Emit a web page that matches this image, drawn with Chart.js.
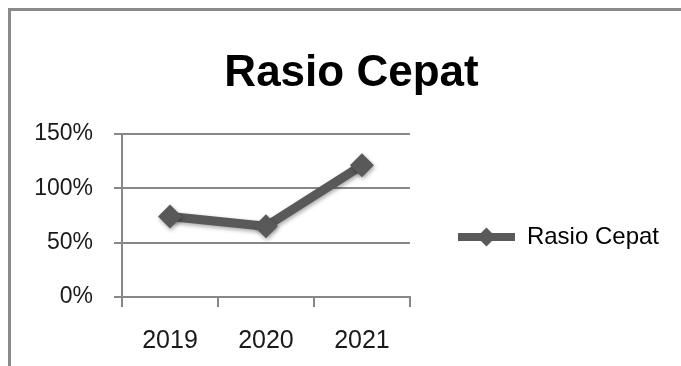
<!DOCTYPE html>
<html>
<head>
<meta charset="utf-8">
<script src="https://cdn.jsdelivr.net/npm/chart.js@4.4.1/dist/chart.umd.min.js"></script>
<style>
    html, body { margin: 0; padding: 0; background: #fff; overflow: hidden; }
    #wrap { position: relative; width: 681px; height: 366px; overflow: hidden; }
    #frame { position: absolute; left: 8px; top: 8px; width: 800px; height: 500px;
             border-top: 3px solid #8a8a8a; border-left: 3px solid #8a8a8a; }
    canvas { position: absolute; left: 0; top: 0; }
</style>
</head>
<body>
<div id="wrap">
    <div id="frame"></div>
    <canvas id="rasioCepatChart" width="681" height="366"></canvas>
</div>
<script>
const years = ['2019', '2020', '2021'];
const rasioCepat = [74, 65, 121];
const yTicks = [0, 50, 100, 150];

const lineColor = '#595959';
const gridColor = '#878787';

// legend symbol: thick line with a diamond in the middle
function legendSymbol() {
    let c = document.createElement('canvas');
    c.width = 57;
    c.height = 22;
    let g = c.getContext('2d');
    g.fillStyle = lineColor;
    g.fillRect(0, 7, 57, 8);
    g.beginPath();
    g.moveTo(28.5, 1.5);
    g.lineTo(38, 11);
    g.lineTo(28.5, 20.5);
    g.lineTo(19, 11);
    g.closePath();
    g.fill();
    return c;
}

const shadowPlugin = {
    id: 'softShadow',
    beforeDatasetsDraw(chart) {
        let ctx = chart.ctx;
        ctx.save();
        ctx.shadowColor = 'rgba(0,0,0,0.35)';
        ctx.shadowBlur = 4;
        ctx.shadowOffsetX = 1;
        ctx.shadowOffsetY = 2;
    },
    afterDatasetsDraw(chart) {
        chart.ctx.restore();
    }
};

const symbol = legendSymbol();

let ctx = document.getElementById('rasioCepatChart');
new Chart(ctx, {
    type: 'line',
    data: {
        labels: years,
        datasets: [{
            label: 'Rasio Cepat',
            data: rasioCepat,
            borderColor: lineColor,
            backgroundColor: lineColor,
            borderWidth: 9,
            pointStyle: 'rectRot',
            pointRadius: 12,
            pointHoverRadius: 12,
            pointBorderWidth: 0,
            fill: false,
            tension: 0
        }]
    },
    options: {
        responsive: false,
        animation: false,
        layout: {
            padding: {left: 34, right: 12, top: 0, bottom: 2}
        },
        scales: {
            x: {
                offset: true,
                afterFit: (scale) => { scale.height = 67; },
                grid: {
                    offset: true,
                    drawOnChartArea: false,
                    drawTicks: true,
                    tickLength: 10,
                    color: gridColor,
                    lineWidth: 2
                },
                border: {display: true, color: gridColor, width: 2},
                ticks: {
                    color: '#1a1a1a',
                    padding: 19,
                    font: {family: 'Liberation Sans', size: 25}
                }
            },
            y: {
                min: yTicks[0],
                max: yTicks[yTicks.length - 1],
                afterFit: (scale) => { scale.width = 88; },
                grid: {
                    color: gridColor,
                    lineWidth: 2,
                    drawTicks: true,
                    tickLength: 8
                },
                border: {display: true, color: gridColor, width: 2},
                ticks: {
                    stepSize: yTicks[1] - yTicks[0],
                    padding: 21,
                    color: '#1a1a1a',
                    font: {family: 'Liberation Sans', size: 23},
                    callback: (v) => v + '%'
                }
            }
        },
        plugins: {
            title: {
                display: true,
                text: 'Rasio Cepat',
                color: '#000',
                font: {family: 'Liberation Sans', size: 44, weight: 'bold', lineHeight: 1.2},
                padding: {top: 47, bottom: 34}
            },
            legend: {
                display: true,
                position: 'right',
                align: 'end',
                fullSize: false,
                maxWidth: 300,
                labels: {
                    usePointStyle: true,
                    pointStyle: symbol,
                    pointStyleWidth: 57,
                    padding: 48,
                    color: '#1a1a1a',
                    font: {family: 'Liberation Sans', size: 24},
                    generateLabels: (chart) => [{
                        text: chart.data.datasets[0].label,
                        pointStyle: symbol,
                        fillStyle: lineColor,
                        strokeStyle: lineColor,
                        lineWidth: 0,
                        hidden: false,
                        datasetIndex: 0
                    }]
                }
            },
            tooltip: {enabled: false}
        }
    },
    plugins: [shadowPlugin]
});
</script>
</body>
</html>
